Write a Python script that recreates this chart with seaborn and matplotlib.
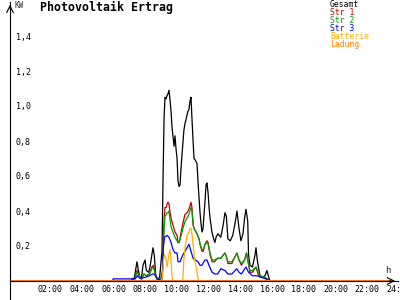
import matplotlib
matplotlib.use("Agg")
import matplotlib.pyplot as plt
import pandas as pd
import seaborn as sns
from matplotlib.transforms import ScaledTranslation

sns.set_theme(style="white")
plt.rcParams["font.family"] = ["DejaVu Sans Mono", "DejaVu Sans"]

series_names = ["Gesamt", "Str 1", "Str 2", "Str 3", "Batterie", "Ladung"]
series_colors = ["#000000", "#c00000", "#00a000", "#0000ff", "#ffb000", "#ff8000"]

gesamt_t = [0, 7.6, 7.85, 8.01, 8.1, 8.2, 8.3, 8.39, 8.52, 8.6,
            8.75, 8.85, 8.95, 9.02, 9.1, 9.2, 9.34, 9.45, 9.59, 9.65,
            9.72, 9.78, 9.85, 9.91, 9.97, 10.03, 10.1, 10.16, 10.22, 10.28,
            10.35, 10.41, 10.48, 10.54, 10.6, 10.67, 10.73, 10.8, 10.91, 10.97,
            11.04, 11.1, 11.17, 11.23, 11.29, 11.36, 11.42, 11.48, 11.55, 11.61,
            11.7, 11.8, 11.86, 11.93, 11.99, 12.05, 12.11, 12.18, 12.24, 12.3,
            12.37, 12.43, 12.5, 12.56, 12.62, 12.74, 12.85, 12.93, 13.0, 13.12,
            13.3, 13.45, 13.56, 13.65, 13.75, 13.9, 14.05, 14.2, 14.32, 14.45,
            14.57, 14.7, 14.8, 14.89, 15.0, 15.05, 15.14, 15.3, 15.46, 15.52,
            15.6, 15.77, 15.9, 16.09, 16.21, 16.3, 16.4, 24]
gesamt_v = [0, 0, 0.02, 0.11, 0.06, 0.02, 0.02, 0.09, 0.12, 0.06,
            0.05, 0.09, 0.15, 0.19, 0.15, 0.03, 0.0, 0.03, 0.17, 0.55,
            0.93, 1.05, 1.04, 1.06, 1.07, 1.09, 1.03, 0.97, 0.88, 0.83,
            0.77, 0.83, 0.75, 0.70, 0.57, 0.54, 0.55, 0.66, 0.79, 0.86,
            0.90, 0.92, 0.95, 0.97, 0.98, 1.03, 1.05, 0.93, 0.80, 0.70,
            0.69, 0.67, 0.57, 0.47, 0.39, 0.33, 0.28, 0.30, 0.38, 0.45,
            0.55, 0.56, 0.50, 0.42, 0.36, 0.28, 0.24, 0.22, 0.25, 0.27,
            0.25, 0.32, 0.39, 0.37, 0.24, 0.23, 0.26, 0.33, 0.40, 0.30,
            0.23, 0.27, 0.36, 0.41, 0.34, 0.15, 0.09, 0.08, 0.15, 0.19,
            0.12, 0.03, 0.02, 0.03, 0.06, 0.03, 0.0, 0]

str_t = [0, 7.7, 7.9, 8.01, 8.15, 8.3, 8.45, 8.6, 8.8, 8.95,
         9.05, 9.2, 9.35, 9.5, 9.62, 9.72, 9.78, 9.85, 9.91, 9.97,
         10.03, 10.1, 10.16, 10.28, 10.41, 10.54, 10.60, 10.67, 10.8, 10.91,
         11.04, 11.17, 11.29, 11.42, 11.48, 11.55, 11.61, 11.8, 11.93, 11.99,
         12.11, 12.2, 12.30, 12.43, 12.5, 12.62, 12.75, 12.9, 13.1, 13.3,
         13.56, 13.65, 13.75, 14.0, 14.2, 14.32, 14.45, 14.6, 14.8, 14.92,
         15.0, 15.14, 15.3, 15.52, 15.65, 15.8, 16.1, 16.4, 24]
str1_v = [0, 0, 0.02, 0.06, 0.03, 0.01, 0.04, 0.03, 0.04, 0.08,
          0.09, 0.03, 0.0, 0.01, 0.05, 0.35, 0.42, 0.42, 0.44, 0.45,
          0.44, 0.39, 0.36, 0.32, 0.28, 0.26, 0.22, 0.22, 0.28, 0.33,
          0.38, 0.39, 0.41, 0.45, 0.42, 0.32, 0.30, 0.27, 0.24, 0.21,
          0.17, 0.17, 0.21, 0.23, 0.22, 0.15, 0.11, 0.11, 0.13, 0.13,
          0.16, 0.14, 0.10, 0.10, 0.14, 0.16, 0.12, 0.09, 0.12, 0.16,
          0.12, 0.05, 0.05, 0.08, 0.04, 0.02, 0.02, 0.0, 0]
str2_v = [0, 0, 0.02, 0.05, 0.03, 0.01, 0.04, 0.03, 0.04, 0.07,
          0.08, 0.03, 0.0, 0.01, 0.05, 0.30, 0.37, 0.38, 0.39, 0.39,
          0.40, 0.35, 0.31, 0.28, 0.25, 0.23, 0.22, 0.22, 0.26, 0.30,
          0.34, 0.36, 0.38, 0.42, 0.40, 0.33, 0.30, 0.27, 0.24, 0.21,
          0.18, 0.18, 0.21, 0.22, 0.21, 0.16, 0.12, 0.12, 0.13, 0.13,
          0.16, 0.14, 0.11, 0.11, 0.14, 0.16, 0.12, 0.10, 0.12, 0.16,
          0.12, 0.06, 0.06, 0.08, 0.05, 0.03, 0.02, 0.0, 0]

str3_t = [0, 6.49, 6.5, 7.9, 8.05, 8.2, 8.5, 8.8, 9.0, 9.1, 9.3,
          9.6, 9.68, 9.75, 9.91, 10.03, 10.16, 10.28, 10.41, 10.54, 10.60,
          10.73, 10.91, 11.04, 11.17, 11.29, 11.42, 11.55, 11.7, 11.86, 11.99,
          12.11, 12.3, 12.43, 12.55, 12.75, 12.93, 13.1, 13.3, 13.56, 13.75,
          14.0, 14.3, 14.45, 14.6, 14.89, 15.05, 15.3, 15.6, 15.9, 16.2,
          16.4, 24]
str3_v = [0, 0, 0.012, 0.012, 0.03, 0.015, 0.02, 0.03, 0.04, 0.04, 0.01,
          0.01, 0.20, 0.25, 0.26, 0.25, 0.22, 0.18, 0.16, 0.16, 0.11,
          0.11, 0.15, 0.17, 0.19, 0.21, 0.17, 0.13, 0.12, 0.11, 0.09,
          0.09, 0.12, 0.12, 0.09, 0.05, 0.04, 0.04, 0.07, 0.06, 0.04,
          0.04, 0.07, 0.05, 0.04, 0.08, 0.05, 0.03, 0.03, 0.02, 0.01,
          0, 0]

batt_t = [0, 9.5, 9.62, 9.68, 9.75, 9.85, 9.91, 9.97, 10.03, 10.1,
          10.16, 10.22, 10.28, 10.9, 10.97, 11.04, 11.17, 11.29, 11.36, 11.42,
          11.48, 11.55, 11.67, 11.8, 11.9, 24]
batt_v = [0, 0, 0.02, 0.12, 0.15, 0.12, 0.08, 0.12, 0.15, 0.18,
          0.12, 0.02, 0, 0, 0.12, 0.19, 0.26, 0.28, 0.30, 0.30,
          0.27, 0.21, 0.11, 0.05, 0, 0]

ladung_t = [0, 24]
ladung_v = [0, 0]

y_ticks = [0.2, 0.4, 0.6, 0.8, 1.0, 1.2, 1.4]
y_labels = ["0,2", "0,4", "0,6", "0,8", "1,0", "1,2", "1,4"]
x_ticks = [2, 4, 6, 8, 10, 12, 14, 16, 18, 20, 22, 24]
x_labels = ["02:00", "04:00", "06:00", "08:00", "10:00", "12:00",
            "14:00", "16:00", "18:00", "20:00", "22:00", "24:00"]

all_t = [gesamt_t, str_t, str_t, str3_t, batt_t, ladung_t]
all_v = [gesamt_v, str1_v, str2_v, str3_v, batt_v, ladung_v]
df = pd.concat([pd.DataFrame({"h": t, "kW": v, "serie": n})
                for n, t, v in zip(series_names, all_t, all_v)],
               ignore_index=True)

fig = plt.figure(figsize=(4, 3), dpi=100)
fig.patch.set_facecolor("white")
ax = fig.add_axes([10 / 400, 0, 388 / 400, 298 / 300])
ax.set_facecolor("white")

for i, (name, col) in enumerate(zip(series_names, series_colors)):
    sub = df[df["serie"] == name]
    lw = 1.5 if name == "Ladung" else 0.9
    sns.lineplot(data=sub, x="h", y="kW", color=col, linewidth=lw,
                 estimator=None, sort=False, ax=ax, zorder=2 + i * 0.1)

ax.set_xlim(0, 24.48)
ax.set_ylim(-19 / 175, 279 / 175)
ax.set_xlabel("")
ax.set_ylabel("")

for s in ["top", "right"]:
    ax.spines[s].set_visible(False)
ax.spines["bottom"].set_position(("data", 0))
for s in ["left", "bottom"]:
    ax.spines[s].set_color("black")
    ax.spines[s].set_linewidth(0.8)

ax.set_xticks(x_ticks)
ax.set_xticklabels(x_labels)
ax.set_yticks(y_ticks)
ax.set_yticklabels(y_labels)
ax.tick_params(axis="x", direction="in", length=4, width=0.8, labelsize=6,
               pad=3, colors="black")
ax.tick_params(axis="y", direction="inout", length=5, width=0.8, labelsize=6,
               pad=-6.5, colors="black")
xoff = ScaledTranslation(-4 / 100, 0, fig.dpi_scale_trans)
for lbl in ax.get_xticklabels():
    lbl.set_ha("left")
    lbl.set_transform(lbl.get_transform() + xoff)
for lbl in ax.get_yticklabels():
    lbl.set_ha("left")

# axis arrows
ax.annotate("", xy=(0, 1.0), xycoords="axes fraction", xytext=(0, 0.97),
            arrowprops=dict(arrowstyle="->", lw=0.8, color="black"))
ax.annotate("", xy=(1.0, 0), xycoords=ax.get_yaxis_transform(),
            xytext=(0.97, 0), textcoords=ax.get_yaxis_transform(),
            arrowprops=dict(arrowstyle="->", lw=0.8, color="black"))

fig.text(40 / 400, 1 - 7.5 / 300, "Photovoltaik Ertrag", fontsize=8.4,
         fontweight="bold", va="center", ha="left", color="black")
fig.text(14 / 400, 1 - 5.5 / 300, "KW", fontsize=5.5, va="center", ha="left")
fig.text(385 / 400, 1 - 270.5 / 300, "h", fontsize=6.5, va="center", ha="left")

for i, (name, col) in enumerate(zip(series_names, series_colors)):
    fig.text(330 / 400, 1 - (4.5 + 7.9 * i) / 300, name, fontsize=5.8,
             color=col, va="center", ha="left")

fig.savefig("out.png", dpi=100, facecolor="white")
